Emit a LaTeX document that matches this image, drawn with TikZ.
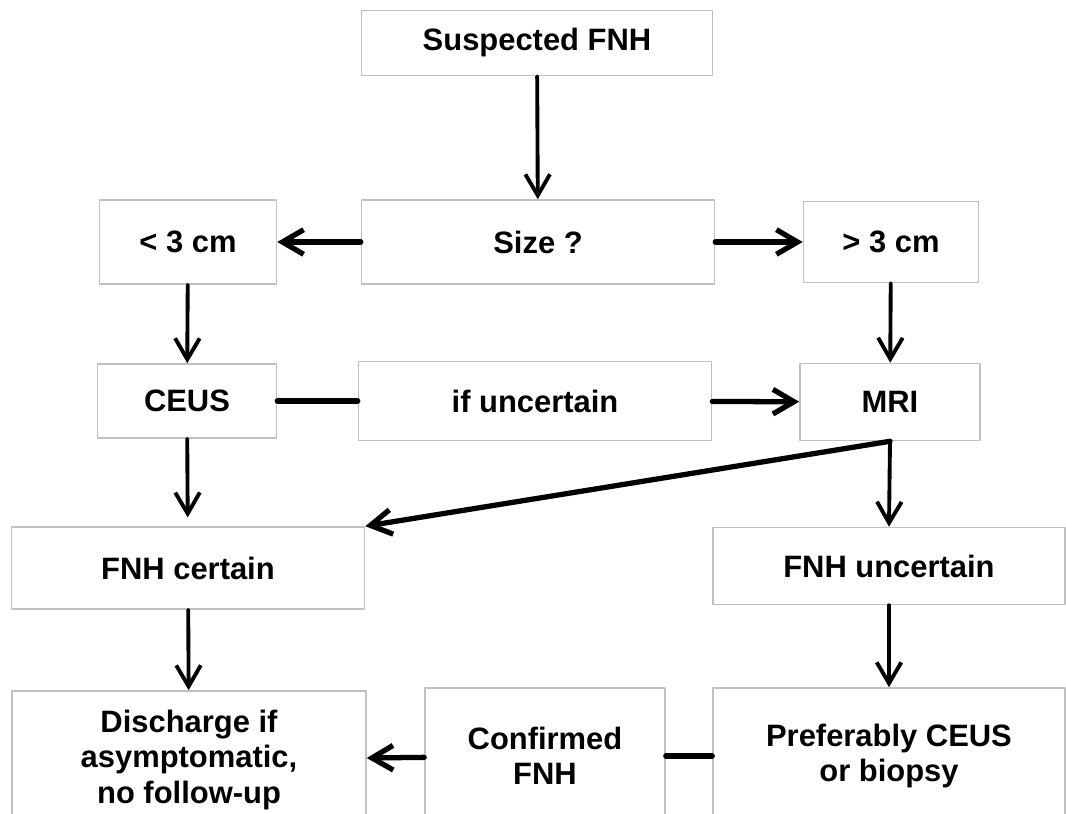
\documentclass[tikz,border=0pt]{standalone}
\usepackage{fontspec}
\setmainfont{Liberation Sans}
\usetikzlibrary{arrows.meta}

\begin{document}
\begin{tikzpicture}[x=0.02cm, y=-0.02cm, line cap=round, line join=round,
    box/.style={draw=boxgray, line width=0.9pt, fill=white, align=center,
      font=\bfseries\fontsize{17.6}{20}\selectfont, inner sep=0pt},
    flow/.style={-{Straight Barb[length=12pt, width=14pt]}, line width=2.2pt},
    link/.style={line width=3pt}]
  \definecolor{boxgray}{RGB}{192,192,192}
  \useasboundingbox (0,0) rectangle (1066,814);
  \clip (0,0) rectangle (1066,814);
  % top row
  \node[box, minimum width=351*0.02cm, minimum height=65*0.02cm] (sus) at (537,43) {Suspected FNH};
  \node[box, minimum width=353*0.02cm, minimum height=84*0.02cm] (size) at (538,242) {Size ?};
  \node[box, minimum width=177*0.02cm, minimum height=84*0.02cm] (small) at (188,242) {< 3 cm};
  \node[box, minimum width=175*0.02cm, minimum height=81*0.02cm] (big) at (891,242) {> 3 cm};
  % imaging
  \node[box, minimum width=179*0.02cm, minimum height=74*0.02cm] (ceus) at (187,401) {CEUS};
  \node[box, minimum width=353*0.02cm, minimum height=79*0.02cm] (unc) at (535,401) {if uncertain};
  \node[box, minimum width=180*0.02cm, minimum height=77*0.02cm] (mri) at (890,402) {MRI};
  % outcome
  \node[box, minimum width=353*0.02cm, minimum height=82*0.02cm] (cert) at (188,568) {FNH certain};
  \node[box, minimum width=352*0.02cm, minimum height=77*0.02cm] (uncert) at (889,566) {FNH uncertain};
  \node[box, minimum width=354*0.02cm, minimum height=138*0.02cm] (dis) at (189,760)
    {Discharge if\\asymptomatic,\\no follow-up};
  \node[box, minimum width=240*0.02cm, minimum height=136*0.02cm] (conf) at (545,756) {Confirmed\\FNH};
  \node[box, minimum width=352*0.02cm, minimum height=136*0.02cm] (pref) at (889,756)
    {Preferably CEUS\\or biopsy};
  % connectors
  \draw[flow] (sus) -- (size);
  \draw[flow, link] (size) -- (small);
  \draw[flow, link] (size) -- (big);
  \draw[flow] (small) -- (ceus);
  \draw[flow] (big) -- (mri);
  \draw[link] (ceus) -- (unc);
  \draw[flow, link] (unc) -- (mri);
  \draw[flow, shorten >=5pt] (ceus) -- (cert);
  \draw[flow] (mri.south) -- (uncert.north);
  \draw[flow, link] (mri.south) -- (cert.north east);
  \draw[flow] (cert) -- (dis);
  \draw[flow] (uncert) -- (pref);
  \draw[link] (pref) -- (conf);
  \draw[flow, link] (conf) -- (dis);
\end{tikzpicture}
\end{document}
